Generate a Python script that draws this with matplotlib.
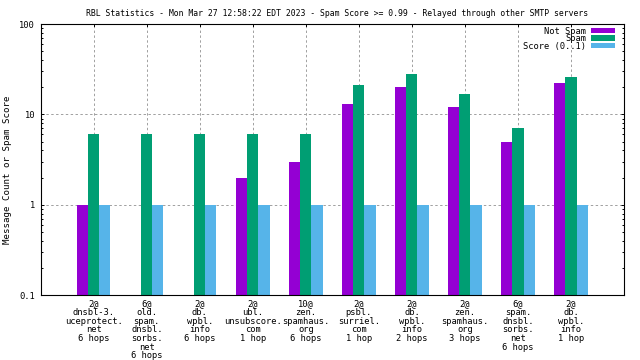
import numpy as np
import matplotlib
matplotlib.use("Agg")
import matplotlib.pyplot as plt
from matplotlib.ticker import LogLocator, NullFormatter

title = "RBL Statistics - Mon Mar 27 12:58:22 EDT 2023 - Spam Score >= 0.99 - Relayed through other SMTP servers"
categories = [
    "2@\ndnsbl-3.\nuceprotect.\nnet\n6 hops",
    "6@\nold.\nspam.\ndnsbl.\nsorbs.\nnet\n6 hops",
    "2@\ndb.\nwpbl.\ninfo\n6 hops",
    "2@\nubl.\nunsubscore.\ncom\n1 hop",
    "10@\nzen.\nspamhaus.\norg\n6 hops",
    "2@\npsbl.\nsurriel.\ncom\n1 hop",
    "2@\ndb.\nwpbl.\ninfo\n2 hops",
    "2@\nzen.\nspamhaus.\norg\n3 hops",
    "6@\nspam.\ndnsbl.\nsorbs.\nnet\n6 hops",
    "2@\ndb.\nwpbl.\ninfo\n1 hop",
]
not_spam = [1, np.nan, np.nan, 2, 3, 13, 20, 12, 5, 22]
spam = [6, 6, 6, 6, 6, 21, 28, 17, 7, 26]
score = [1, 1, 1, 1, 1, 1, 1, 1, 1, 1]
series_names = ["Not Spam", "Spam", "Score (0..1)"]
colors = ["#9400d3", "#009e73", "#56b4e9"]
ytick_vals = [0.1, 1, 10, 100]
ytick_labels = ["0.1", "1", "10", "100"]

plt.rcParams['font.family'] = ['DejaVu Sans Mono']
fig = plt.figure(figsize=(6.4, 3.6), dpi=100)
W, H = 640, 360
l, r, b, t = 40.7, 624, 295.3, 24.0
ax = fig.add_axes([l / W, 1 - b / H, (r - l) / W, (b - t) / H])
ax.set_yscale('log')

x = np.arange(len(categories))
bw = 0.21
for i, (vals, name, c) in enumerate(zip([not_spam, spam, score], series_names, colors)):
    ax.bar(x + (i - 1) * bw, vals, width=bw, color=c, label=name, zorder=2)

ax.set_xlim(-1, 10)
ax.set_ylim(0.1, 100)
ax.set_xticks(x)
ax.set_xticklabels(categories, fontsize=6.3, linespacing=0.95, va='top')
ax.set_yticks(ytick_vals)
ax.set_yticklabels(ytick_labels, fontsize=6.3)
ax.yaxis.set_minor_locator(LogLocator(base=10, subs=np.arange(2, 10)))
ax.yaxis.set_minor_formatter(NullFormatter())
ax.tick_params(axis='y', which='major', direction='in', length=2.2, width=0.7, right=True, pad=4)
ax.tick_params(axis='y', which='minor', direction='in', length=1.2, width=0.7, right=True)
ax.tick_params(axis='x', which='major', direction='in', length=0, top=False, bottom=True, pad=3)
for xi in x:
    ax.plot([xi, xi], [100, 100 / 1.05], color='black', lw=0.7, zorder=3, clip_on=False)
ax.set_axisbelow(True)
ax.grid(True, which='major', axis='both', color='#a0a0a0', lw=0.7, linestyle=(0, (2.5, 2.5)))
for s in ax.spines.values():
    s.set_linewidth(0.8)

fig.text(337 / W, 1 - 13 / H, title, ha='center', va='center', fontsize=5.9)
fig.text(7.5 / W, 1 - 169.5 / H, "Message Count or Spam Score", rotation=90,
         ha='center', va='center', fontsize=6.6)

leg = ax.legend(loc='upper right', bbox_to_anchor=(615 / W, 1 - 26.5 / H),
                bbox_transform=fig.transFigure, frameon=False, markerfirst=False,
                fontsize=6.3, handlelength=2.7, handleheight=0.55, handletextpad=0.6,
                labelspacing=-0.15, borderpad=0, borderaxespad=0)

fig.savefig("out.png", dpi=100)
